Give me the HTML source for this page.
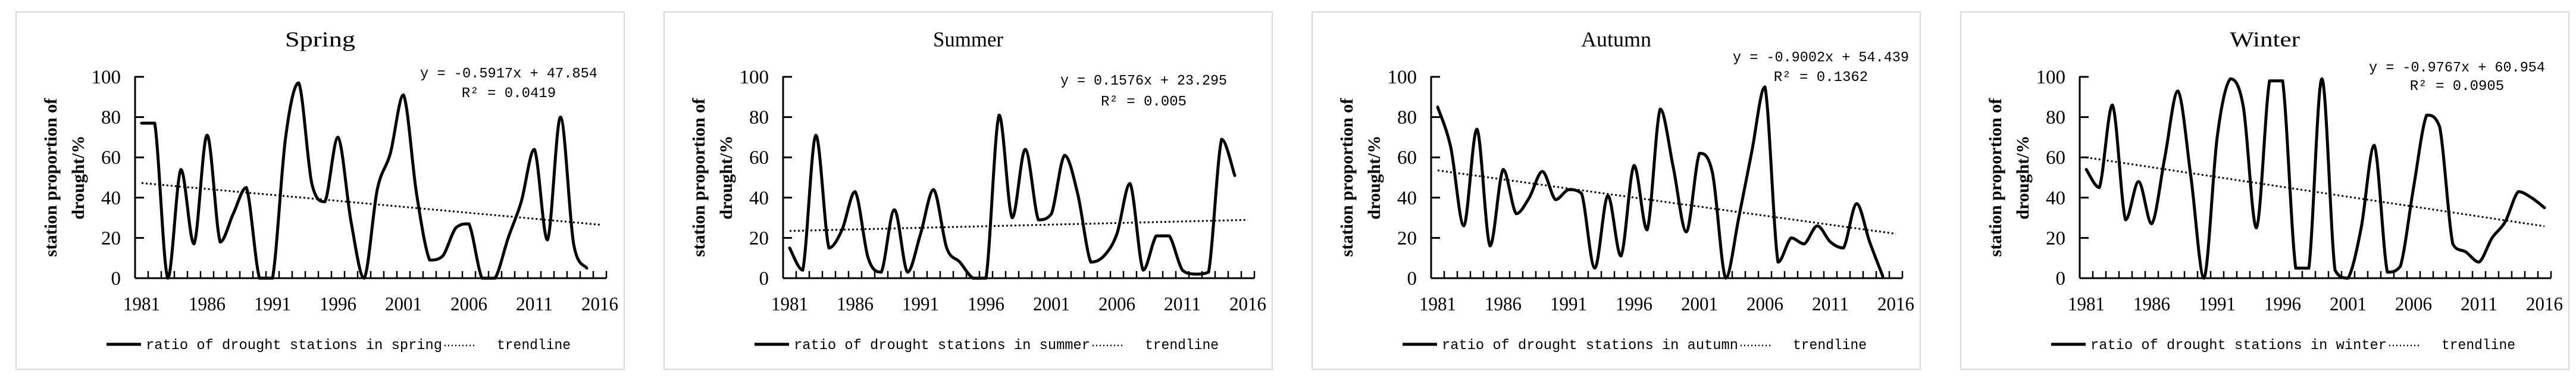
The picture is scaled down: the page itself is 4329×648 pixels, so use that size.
<!DOCTYPE html>
<html><head><meta charset="utf-8">
<style>
html,body{margin:0;padding:0;background:#fff;}
svg{display:block;}
</style></head>
<body>
<svg id="chart" xmlns="http://www.w3.org/2000/svg" width="4329" height="648" viewBox="0 0 4329 648"></svg>
<script>
const years = [];
for (let y = 1981; y <= 2016; y++) years.push(y);
const xTickLabels = ["1981","1986","1991","1996","2001","2006","2011","2016"];
const yTicks = [0,20,40,60,80,100];
const springValues = [77,77,0,54,17,71,18,32,45,0,0,70,97,47,38,70,28,0,44,62,91,42,9,11,25,27,0,0,20,38,64,19,80,17,5];
const summerValues = [15,4,71,15,24,43,10,3,34,3,22,44,15,8,0,0,81,30,64,29,32,61,42,8,11,22,47,4,21,21,4,2,3,69,51];
const autumnValues = [85,65,26,74,16,54,32,40,53,39,44,42,5,41,11,56,24,84,55,23,62,52,0,30,63,95,8,20,17,26,18,15,37,18,1];
const winterValues = [54,45,86,29,48,27,60,93,50,0,70,99,85,25,98,98,5,5,99,4,0,25,66,3,6,45,81,75,17,13,8,20,28,43,40,35];
const seasonNames = ["Spring","Summer","Autumn","Winter"];
const trendSlopes = [-0.5917, 0.1576, -0.9002, -0.9767];
const trendIntercepts = [47.854, 23.295, 54.439, 60.954];
const eqTexts = ["y = -0.5917x + 47.854","y = 0.1576x + 23.295","y = -0.9002x + 54.439","y = -0.9767x + 60.954"];
const r2Texts = ["R² = 0.0419","R² = 0.005","R² = 0.1362","R² = 0.0905"];

const NS = "http://www.w3.org/2000/svg";
const svg = document.getElementById("chart");
function mk(tag, attrs, parent) {
  const e = document.createElementNS(NS, tag);
  for (const k in attrs) e.setAttribute(k, attrs[k]);
  (parent || svg).appendChild(e);
  return e;
}
const panelLefts = [27, 1116, 2205, 3295];
const eqLayout = [
  {cx:828, w:298, ey:122, ry:155},
  {cx:806, w:280, ey:134, ry:169},
  {cx:855, w:296, ey:95, ry:128},
  {cx:834, w:296, ey:112, ry:143}
];
const seriesList = [springValues, summerValues, autumnValues, winterValues];
const PW = 1022, AXL = 200, AXW = 792, NCAT = 36, Y0 = 467, Y100 = 129;

function clamp(v, a, b) { const lo = Math.min(a, b), hi = Math.max(a, b); return Math.max(lo, Math.min(hi, v)); }
function smoothPath(pts) {
  let d = "M" + pts[0][0].toFixed(1) + "," + pts[0][1].toFixed(1);
  for (let i = 0; i < pts.length - 1; i++) {
    const p0 = pts[Math.max(0, i - 1)], p1 = pts[i], p2 = pts[i + 1], p3 = pts[Math.min(pts.length - 1, i + 2)];
    const c1x = p1[0] + (p2[0] - p0[0]) / 6;
    const c1y = clamp(p1[1] + (p2[1] - p0[1]) / 6, p1[1], p2[1]);
    const c2x = p2[0] - (p3[0] - p1[0]) / 6;
    const c2y = clamp(p2[1] - (p3[1] - p1[1]) / 6, p1[1], p2[1]);
    d += " C" + c1x.toFixed(1) + "," + c1y.toFixed(1) + " " + c2x.toFixed(1) + "," + c2y.toFixed(1) + " " + p2[0].toFixed(1) + "," + p2[1].toFixed(1);
  }
  return d;
}

seasonNames.forEach((name, p) => {
  const L = panelLefts[p];
  const ax = L + AXL;
  const cw = AXW / NCAT;
  const xScale = i => ax + (i + 0.5) * cw;
  const yScale = v => Y0 - (v / 100) * (Y0 - Y100);
  const g = mk("g", {});
  
  

  const frame = mk("rect", {x:L, y:20, width:PW, height:600, fill:"#fff", stroke:"#d9d9d9", "stroke-width":2}, g);
  
  

  const title = mk("text", {x:L + PW / 2, y:78, "text-anchor":"middle", "font-family":"Liberation Serif, serif", "font-size":36, textLength:118, lengthAdjust:"spacingAndGlyphs"}, g);
  title.textContent = name;
  
  

  const yt = mk("text", {transform:"translate(" + (L + 81) + ",298) rotate(-90)", "text-anchor":"middle", "font-family":"Liberation Serif, serif", "font-size":30, "font-weight":"bold"}, g);
  
  
  const t1 = mk("tspan", {x:0, y:-13}, yt); t1.textContent = "station proportion of";
  const t2 = mk("tspan", {x:0, y:33}, yt); t2.textContent = "drought/%";

  const yAxis = mk("line", {x1:ax, y1:Y100 - 1, x2:ax, y2:Y0, stroke:"#000", "stroke-width":3}, g);
  
  
  yTicks.forEach(v => {
    const tk = mk("line", {x1:ax, y1:yScale(v), x2:ax + 15, y2:yScale(v), stroke:"#000", "stroke-width":3}, g);
    
    
    const lb = mk("text", {x:ax - 24, y:yScale(v) + 11, "text-anchor":"end", "font-family":"Liberation Serif, serif", "font-size":33}, g);
    lb.textContent = v;
    
    
  });
  const xAxis = mk("line", {x1:ax, y1:Y0, x2:ax + AXW, y2:Y0, stroke:"#000", "stroke-width":3}, g);
  
  
  for (let i = 1; i <= NCAT; i++) {
    const tk = mk("line", {x1:ax + i * cw, y1:Y0, x2:ax + i * cw, y2:Y0 - 12, stroke:"#000", "stroke-width":2.5}, g);
    
    
  }
  xTickLabels.forEach(lab => {
    const i = years.indexOf(+lab);
    const lb = mk("text", {x:xScale(i), y:521, "text-anchor":"middle", "font-family":"Liberation Serif, serif", "font-size":33, textLength:62, lengthAdjust:"spacingAndGlyphs"}, g);
    lb.textContent = lab;
    
    
  });

  const tA = trendSlopes[p], tB = trendIntercepts[p];
  const tr = mk("line", {x1:xScale(0), y1:yScale(tA * 1 + tB), x2:xScale(NCAT - 1), y2:yScale(tA * NCAT + tB), stroke:"#000", "stroke-width":3, "stroke-dasharray":"3,4"}, g);
  
  

  const vals = seriesList[p];
  const pts = vals.map((v, i) => [xScale(i), yScale(v)]);
  const path = mk("path", {d:smoothPath(pts), fill:"none", stroke:"#000", "stroke-width":5, "stroke-linejoin":"round", "stroke-linecap":"round"}, g);
  
  

  const el = eqLayout[p];
  const eq = mk("text", {x:L + el.cx, y:el.ey + 8, "text-anchor":"middle", "font-family":"Liberation Mono, monospace", "font-size":24, textLength:el.w, lengthAdjust:"spacingAndGlyphs"}, g);
  eq.textContent = eqTexts[p];
  
  
  const r2 = mk("text", {x:L + el.cx, y:el.ry + 8, "text-anchor":"middle", "font-family":"Liberation Mono, monospace", "font-size":24}, g);
  r2.textContent = r2Texts[p];
  
  

  const lx = L + 152;
  const lg = mk("g", {}, g);
  
  
  const ll = mk("line", {x1:lx, y1:578, x2:lx + 58, y2:578, stroke:"#000", "stroke-width":5}, lg);
  
  
  const lt = mk("text", {x:lx + 66, y:586, "font-family":"Liberation Mono, monospace", "font-size":24, textLength:498, lengthAdjust:"spacingAndGlyphs"}, lg);
  lt.textContent = "ratio of drought stations in " + name.toLowerCase();
  
  
  const ld = mk("line", {x1:lx + 568, y1:580, x2:lx + 622, y2:580, stroke:"#000", "stroke-width":2.5, "stroke-dasharray":"2,4"}, lg);
  
  
  const lt2 = mk("text", {x:lx + 656, y:586, "font-family":"Liberation Mono, monospace", "font-size":24, textLength:124, lengthAdjust:"spacingAndGlyphs"}, lg);
  lt2.textContent = "trendline";
  
  
});
</script>
</body></html>
